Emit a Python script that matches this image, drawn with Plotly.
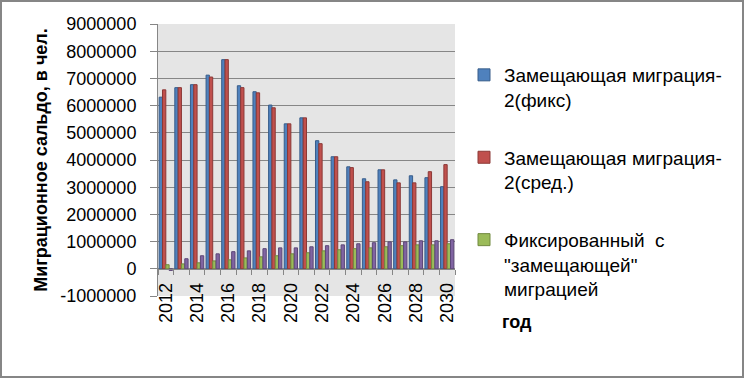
import plotly.graph_objects as go

years = [str(y) for y in range(2012, 2031)]
tick_text = [y if int(y) % 2 == 0 else "" for y in years]
y_ticks = [-1000000, 0, 1000000, 2000000, 3000000, 4000000, 5000000, 6000000, 7000000, 8000000, 9000000]
y_tick_text = ["-1000000", "0", "1000000", "2000000", "3000000", "4000000", "5000000",
               "6000000", "7000000", "8000000", "9000000"]

repl_fix = [6310000, 6660000, 6770000, 7120000, 7690000, 6730000, 6510000, 6020000, 5330000, 5550000,
            4710000, 4120000, 3750000, 3310000, 3640000, 3270000, 3420000, 3350000, 3020000]
repl_mid = [6580000, 6660000, 6770000, 7050000, 7690000, 6660000, 6470000, 5920000, 5330000, 5550000,
            4600000, 4120000, 3720000, 3200000, 3640000, 3160000, 3160000, 3570000, 3830000]
fixed_repl = [150000, 180000, 220000, 290000, 330000, 400000, 440000, 480000, 550000, 590000,
              660000, 700000, 740000, 770000, 810000, 850000, 880000, 880000, 920000]
series4 = [-60000, 370000, 480000, 550000, 630000, 660000, 740000, 770000, 770000, 810000,
           850000, 880000, 920000, 960000, 990000, 990000, 1030000, 1030000, 1070000]

names = ["Замещающая миграция-<br>2(фикс)", "Замещающая миграция-<br>2(сред.)",
         "Фиксированный  с<br>\"замещающей\"<br>миграцией", "Ряд 4"]
fills = ["#4F81BD", "#C0504D", "#9BBB59", "#8064A2"]
edges = ["#385D8A", "#8C3836", "#71893F", "#5C4776"]
values = [repl_fix, repl_mid, fixed_repl, series4]

FONT = "Liberation Sans, Arial, sans-serif"

fig = go.Figure()
for i, (n, v) in enumerate(zip(names, values)):
    fig.add_trace(go.Bar(
        x=years, y=v, name=n,
        marker=dict(color=fills[i], line=dict(color=edges[i], width=1)),
        showlegend=(i < 3), legendgroup=f"g{i}",
    ))

W, H = 744, 378
L, R, T, B = 158, 289, 24, 82
pw, ph = W - L - R, H - T - B

def px(x):
    return (x - L) / pw

def py(y):
    return (H - B - y) / ph

fig.update_layout(
    width=W, height=H,
    margin=dict(l=L, r=R, t=T, b=B, pad=0, autoexpand=False),
    paper_bgcolor="white", plot_bgcolor="#E5E5E5",
    barmode="group", bargap=0.15, bargroupgap=0,
    font=dict(family=FONT, size=18, color="#000000"),
    legend=dict(
        x=px(464), xanchor="left", y=py(56), yanchor="top",
        font=dict(family=FONT, size=19, color="#000000"),
        traceorder="grouped", tracegroupgap=30, valign="top",
        itemwidth=30, bgcolor="rgba(0,0,0,0)",
    ),
    xaxis=dict(
        type="category", anchor="free", position=0.1, automargin=False,
        tickmode="array", tickvals=years, ticktext=tick_text,
        tickson="boundaries", ticks="outside", ticklen=5, tickcolor="#868686",
        tickangle=-90, showline=True, linecolor="#868686", linewidth=1,
        showgrid=False, tickfont=dict(size=18), ticklabelstandoff=6,
    ),
    yaxis=dict(
        range=[-1000000, 9000000], tickmode="array", tickvals=y_ticks, ticktext=y_tick_text,
        automargin=False,
        showgrid=True, gridcolor="#868686", gridwidth=1,
        showline=True, linecolor="#868686", linewidth=1,
        ticks="outside", ticklen=7, tickcolor="#868686", ticklabelstandoff=10,
        zeroline=False, tickfont=dict(size=18),
        title=dict(text="<b>Миграционное сальдо, в чел.</b>", font=dict(size=18), standoff=8),
    ),
    shapes=[dict(type="rect", xref="paper", yref="paper",
                 x0=px(1), x1=px(743), y0=py(377), y1=py(1),
                 line=dict(color="#868686", width=2), fillcolor="rgba(0,0,0,0)")],
    annotations=[dict(text="<b>год</b>", xref="paper", yref="paper",
                      x=px(500), y=py(322), xanchor="left", yanchor="middle",
                      showarrow=False, font=dict(size=18, color="#000000"))],
)

fig.write_html("out.html", config={"displayModeBar": False},
               post_script="document.body.style.margin='0';document.body.style.overflow='hidden';")
